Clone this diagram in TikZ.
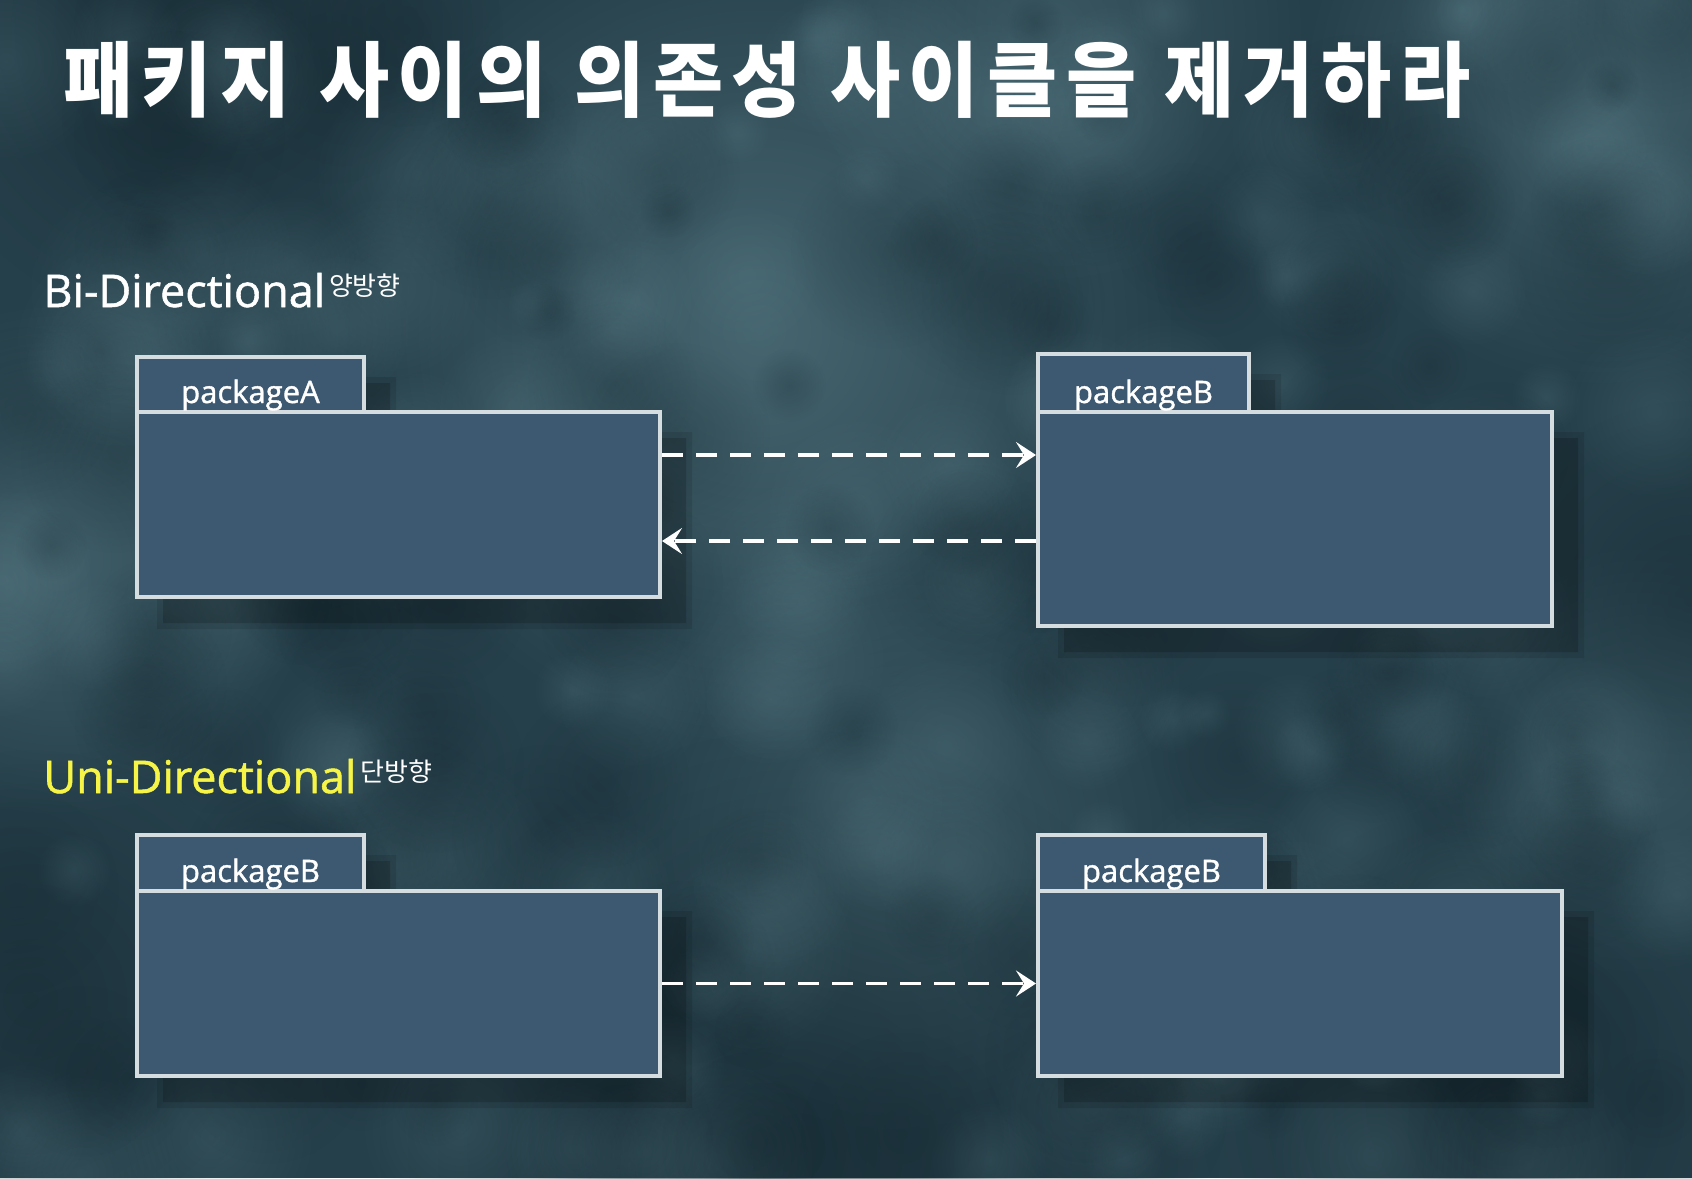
\documentclass[tikz,border=0pt]{standalone}
\usepackage{fontspec}
\setmainfont{Open Sans}
\newfontfamily\lab{Open Sans}[FakeBold=1.2]
\newfontfamily\kr{Noto Sans CJK KR}
\newfontfamily\krtitle{Noto Sans CJK KR}[LetterSpace=11,WordSpace=1.1]
\usetikzlibrary{arrows.meta,fit,fadings}
\definecolor{bgbase}{RGB}{38,64,75}
\definecolor{bglight}{RGB}{96,132,142}
\definecolor{bgdark}{RGB}{20,38,46}
\definecolor{boxfill}{RGB}{61,89,114}
\definecolor{boxline}{RGB}{214,221,225}
\definecolor{yel}{RGB}{246,244,70}
\tikzfading[name=softdisc, inner color=transparent!0, outer color=transparent!100]
\tikzset{
  pkgbody/.style={draw=boxline, line width=2pt, fill=boxfill, inner sep=0pt},
  pkgtab/.style={draw=boxline, line width=2pt, fill=boxfill, inner sep=0pt},
  tablabel/.style={anchor=base, inner sep=0pt, text=white, font=\lab\fontsize{15.5}{18}\selectfont},
  dep/.style={draw=white, line width=1.8pt, dash pattern=on 10.5pt off 6.5pt,
    -{Stealth[length=10pt,width=13pt,inset=4pt]}},
  glow/.style={fill=bglight, path fading=softdisc},
  dim/.style={fill=bgdark, path fading=softdisc},
  heading/.style={anchor=base west, inner sep=0pt, font=\lab\fontsize{22.5}{26}\selectfont},
  sup/.style={anchor=north west, inner sep=0pt, text=white, font=\kr\fontsize{13}{15}\selectfont},
}
\begin{document}
\begin{tikzpicture}[x=0.5pt,y=-0.5pt]
\useasboundingbox (0,0) rectangle (1692,1178);
% background texture
\fill[bgbase] (0,0) rectangle (1692,1178);
\fill[glow, opacity=0.55] (760,330) circle (420);
\fill[glow, opacity=0.45] (60,560) circle (260);
\fill[glow, opacity=0.45] (1600,90) circle (300);
\fill[glow, opacity=0.35] (1050,30) circle (260);
\fill[glow, opacity=0.35] (900,840) circle (300);
\fill[glow, opacity=0.3] (1640,760) circle (220);
\fill[dim, opacity=0.6] (200,30) circle (300);
\fill[dim, opacity=0.55] (800,1150) circle (420);
\fill[dim, opacity=0.5] (1500,1100) circle (300);
\fill[dim, opacity=0.5] (30,1000) circle (250);
\fill[dim, opacity=0.4] (1690,600) circle (200);
\pgfmathsetseed{7}
\foreach \i in {1,...,140}{
  \pgfmathsetmacro{\px}{random(0,1692)}
  \pgfmathsetmacro{\py}{random(0,1178)}
  \pgfmathsetmacro{\pr}{random(25,110)}
  \fill[glow, opacity=0.22] (\px,\py) circle (\pr);
}
\foreach \i in {1,...,120}{
  \pgfmathsetmacro{\px}{random(0,1692)}
  \pgfmathsetmacro{\py}{random(0,1178)}
  \pgfmathsetmacro{\pr}{random(25,110)}
  \fill[dim, opacity=0.25] (\px,\py) circle (\pr);
}

% title
\node[anchor=west, inner sep=0pt, text=white] (title) at (63,80)
  {\scalebox{0.93}[1]{\krtitle\bfseries\fontsize{41}{48}\selectfont 패키지 사이의 의존성 사이클을 제거하라}};

% headings
\node[heading, text=white] (bi) at (43,307) {Bi-Directional};
\node[sup] (bisup) at (bi.base east) [yshift=17pt, xshift=1.5pt] {양방향};
\node[heading, text=yel] (uni) at (43,793) {Uni-Directional};
\node[sup] (unisup) at (uni.base east) [yshift=17pt, xshift=1.5pt] {단방향};

% shadows
\fill[black, opacity=0.1] (157,377) rectangle (396,438) (157,432) rectangle (692,629);
\fill[black, opacity=0.16] (163,383) rectangle (390,438) (163,438) rectangle (686,623);
\fill[black, opacity=0.1] (1058,374) rectangle (1281,438) (1058,432) rectangle (1584,658);
\fill[black, opacity=0.16] (1064,380) rectangle (1275,438) (1064,438) rectangle (1578,652);
\fill[black, opacity=0.1] (157,855) rectangle (396,917) (157,911) rectangle (692,1108);
\fill[black, opacity=0.16] (163,861) rectangle (390,917) (163,917) rectangle (686,1102);
\fill[black, opacity=0.1] (1058,855) rectangle (1297,917) (1058,911) rectangle (1594,1108);
\fill[black, opacity=0.16] (1064,861) rectangle (1291,917) (1064,917) rectangle (1588,1102);

% packages
\node[pkgtab, fit={(137,357) (364,412)}] (tabA) {};
\node[pkgbody, fit={(137,412) (660,597)}] (bodyA) {};
\node[tablabel] (labA) at ([yshift=5.5pt]tabA.south) {packageA};
\node[pkgtab, fit={(1038,354) (1249,412)}] (tabB) {};
\node[pkgbody, fit={(1038,412) (1552,626)}] (bodyB) {};
\node[tablabel] (labB) at ([yshift=5.5pt]tabB.south) {packageB};
\node[pkgtab, fit={(137,835) (364,891)}] (tabC) {};
\node[pkgbody, fit={(137,891) (660,1076)}] (bodyC) {};
\node[tablabel] (labC) at ([yshift=5.5pt]tabC.south) {packageB};
\node[pkgtab, fit={(1038,835) (1265,891)}] (tabD) {};
\node[pkgbody, fit={(1038,891) (1562,1076)}] (bodyD) {};
\node[tablabel] (labD) at ([yshift=5.5pt]tabD.south) {packageB};

% dependencies
\draw[dep] ([yshift=24.75pt]bodyA.east) -- ([yshift=24.75pt]bodyA.east -| bodyB.west);
\draw[dep] ([yshift=-18.25pt]bodyA.east -| bodyB.west) -- ([yshift=-18.25pt]bodyA.east);
\draw[dep] (bodyC.east) -- (bodyC.east -| bodyD.west);
\end{tikzpicture}
\end{document}
